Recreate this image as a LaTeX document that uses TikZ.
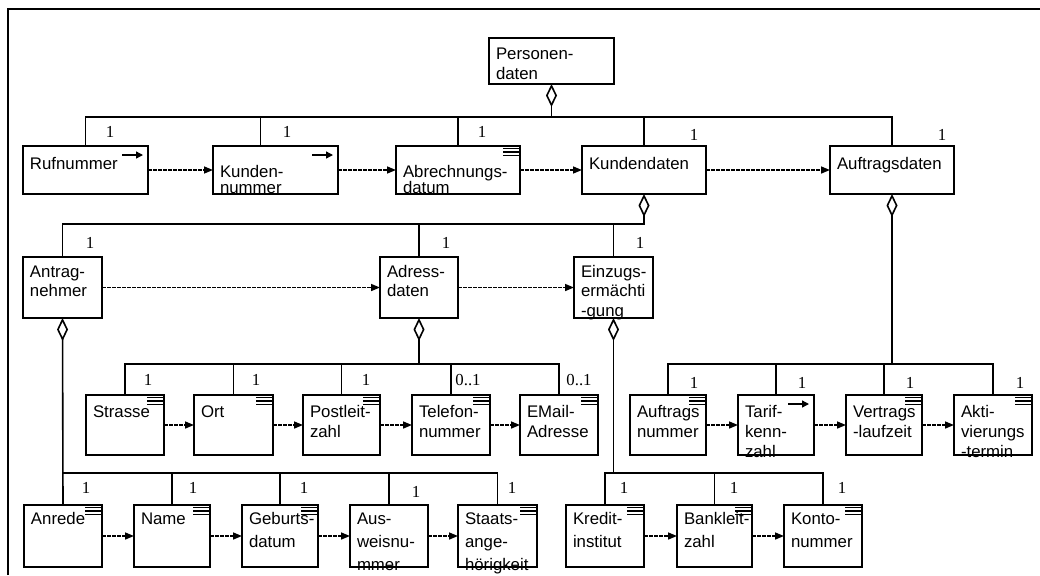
\documentclass[tikz,border=0pt]{standalone}
\usepackage{fontspec}
\setmainfont{Liberation Sans}
\newfontfamily\multfont{Liberation Serif}
\usetikzlibrary{arrows.meta}
\hyphenpenalty=10000
\exhyphenpenalty=10000

\begin{document}
\begin{tikzpicture}[x=0.5pt, y=-0.5pt, line width=0.8pt, >={Triangle[length=4.5pt, width=3.5pt]},
    box/.style={draw, rectangle, anchor=north west, align=left, inner xsep=3.5pt, inner ysep=0pt, outer sep=0pt},
    sz/.style n args={3}{text width=(#1-14)*0.5pt, text height=#3*0.5pt, text depth=(#2-#3)*0.5pt},
    ls/.style={font=\fontsize{8.4pt}{#1}\selectfont},
    mult/.style={font=\multfont\fontsize{8.4pt}{10pt}\selectfont, inner sep=0pt},
    flow/.style={->, dash pattern=on 1.8pt off 0.7pt, line width=0.75pt},
    agg/.style={arrows={Diamond[open, length=11.5pt, width=5.5pt]-}},
    attrlist/.style={path picture={
        \draw[line width=0.6pt] ([shift={(-17,2.5)}]path picture bounding box.north east) -- ++(17,0)
            ([shift={(-17,6)}]path picture bounding box.north east) -- ++(17,0)
            ([shift={(-17,9.5)}]path picture bounding box.north east) -- ++(17,0);}},
    keyref/.style={path picture={
        \draw[->, line width=0.7pt, >={Triangle[length=3.5pt, width=3.5pt]}] ([shift={(-26,9)}]path picture bounding box.north east) -- ++(21,0);}}]
    \useasboundingbox (0,0) rectangle (1040,575);
    \draw[line width=1pt] (8,575) -- (8,9) -- (1040,9);

    \node(pers)[box, sz={125}{46}{21}, ls=10pt] at (489,38){Personen-\\daten};

    \node(ruf)[box, sz={125}{48}{23}, ls=8pt, keyref] at (23,146){Rufnummer};
    \node(kundnr)[box, sz={125}{48}{31}, ls=8pt, keyref] at (213,146){Kunden-\\nummer};
    \node(abr)[box, sz={124}{48}{31}, ls=8pt, attrlist] at (396,146){Abrechnungs-\\datum};
    \node(kunden)[box, sz={124}{48}{23}, ls=8pt] at (582,146){Kundendaten};
    \node(auftr)[box, sz={124}{48}{23}, ls=8pt] at (830,146){Auftragsdaten};

    \node(antrag)[box, sz={79}{61}{20}, ls=9.75pt] at (23,257){Antrag-\\nehmer};
    \node(adress)[box, sz={78}{61}{20}, ls=9.75pt] at (380,257){Adress-\\daten};
    \node(einzug)[box, sz={79}{61}{20}, ls=9.75pt] at (574,257){Einzugs-\\ermächti\\-gung};

    \node(strasse)[box, sz={78}{60}{22}, ls=10pt, attrlist] at (86,395){Strasse};
    \node(ort)[box, sz={79}{60}{22}, ls=10pt, attrlist] at (194,395){Ort};
    \node(plz)[box, sz={77}{60}{22}, ls=10pt, attrlist] at (303,395){Postleit-\\zahl};
    \node(tel)[box, sz={78}{60}{22}, ls=10pt, attrlist] at (412,395){Telefon-\\nummer};
    \node(email)[box, sz={78}{60}{22}, ls=10pt, attrlist] at (520,395){EMail-\\Adresse};
    \node(auftrnr)[box, sz={76}{60}{22}, ls=10pt, attrlist] at (630,395){Auftrags\\nummer};
    \node(tarif)[box, sz={76}{60}{22}, ls=10pt, keyref] at (738,395){Tarif-\\kenn-\\zahl};
    \node(vertrag)[box, sz={76}{60}{22}, ls=10pt, attrlist] at (846,395){Vertrags\\-laufzeit};
    \node(akti)[box, sz={78}{60}{22}, ls=10pt, attrlist] at (954,395){Akti-\\vierungs\\-termin};

    \node(anrede)[box, sz={78}{62}{19}, ls=11.5pt, attrlist] at (24,505){Anrede};
    \node(name)[box, sz={76}{62}{19}, ls=11.5pt, attrlist] at (134,505){Name};
    \node(geburt)[box, sz={76}{62}{19}, ls=11.5pt, attrlist] at (242,505){Geburts-\\datum};
    \node(ausweis)[box, sz={78}{62}{19}, ls=11.5pt] at (350,505){Aus-\\weisnu-\\mmer};
    \node(staats)[box, sz={79}{62}{19}, ls=11.5pt, attrlist] at (458,505){Staats-\\ange-\\hörigkeit};
    \node(kredit)[box, sz={78}{62}{19}, ls=11.5pt, attrlist] at (566,505){Kredit-\\institut};
    \node(bank)[box, sz={75}{62}{19}, ls=11.5pt, attrlist] at (677,505){Bankleit-\\zahl};
    \node(konto)[box, sz={78}{62}{19}, ls=11.5pt, attrlist] at (784,505){Konto-\\nummer};

    \coordinate(bar1) at (0,117);
    \coordinate(bar2) at (0,224);
    \coordinate(bar3) at (0,364);
    \coordinate(bar4) at (0,473);

    \draw[agg] (pers.south) -- (pers.south |- bar1);
    \draw (ruf.north) |- (auftr.north |- bar1) -- (auftr.north);
    \draw ([xshift=-7.5pt]kundnr.north) -- ([xshift=-7.5pt]kundnr.north |- bar1);
    \draw (abr.north) -- (abr.north |- bar1);
    \draw (kunden.north) -- (kunden.north |- bar1);

    \draw[agg] (kunden.south) -- (kunden.south |- bar2) -| (antrag.north);
    \draw (adress.north) -- (adress.north |- bar2);
    \draw (einzug.north) -- (einzug.north |- bar2);

    \draw[agg] (auftr.south) -- (auftr.south |- bar3);
    \draw (auftrnr.north) |- (akti.north |- bar3) -- (akti.north);
    \draw (tarif.north) -- (tarif.north |- bar3);
    \draw (vertrag.north) -- (vertrag.north |- bar3);

    \draw[agg] (adress.south) -- (adress.south |- bar3);
    \draw (strasse.north) |- (email.north |- bar3) -- (email.north);
    \draw (ort.north) -- (ort.north |- bar3);
    \draw (plz.north) -- (plz.north |- bar3);
    \draw (tel.north) -- (tel.north |- bar3);

    \draw[agg] (antrag.south) -- (anrede.north);
    \draw (anrede.north |- bar4) -| (staats.north);
    \draw (name.north) -- (name.north |- bar4);
    \draw (geburt.north) -- (geburt.north |- bar4);
    \draw (ausweis.north) -- (ausweis.north |- bar4);

    \draw[agg] (einzug.south) -- (einzug.south |- bar4);
    \draw (kredit.north) |- (konto.north |- bar4) -- (konto.north);
    \draw (bank.north) -- (bank.north |- bar4);

    \draw[flow] (ruf.east) -- (kundnr.west);
    \draw[flow] (kundnr.east) -- (abr.west);
    \draw[flow] (abr.east) -- (kunden.west);
    \draw[flow] (kunden.east) -- (auftr.west);
    \draw[flow] (antrag.east) -- (adress.west);
    \draw[flow] (adress.east) -- (einzug.west);
    \draw[flow] (strasse.east) -- (ort.west);
    \draw[flow] (ort.east) -- (plz.west);
    \draw[flow] (plz.east) -- (tel.west);
    \draw[flow] (tel.east) -- (email.west);
    \draw[flow] (auftrnr.east) -- (tarif.west);
    \draw[flow] (tarif.east) -- (vertrag.west);
    \draw[flow] (vertrag.east) -- (akti.west);
    \draw[flow] (anrede.east) -- (name.west);
    \draw[flow] (name.east) -- (geburt.west);
    \draw[flow] (geburt.east) -- (ausweis.west);
    \draw[flow] (ausweis.east) -- (staats.west);
    \draw[flow] (kredit.east) -- (bank.west);
    \draw[flow] (bank.east) -- (konto.west);

    \node(m-ruf)[mult] at (110,132){1};
    \node(m-kundnr)[mult] at (287,132){1};
    \node(m-abr)[mult] at (482,132){1};
    \node(m-kunden)[mult] at (694,135){1};
    \node(m-auftr)[mult] at (942,135){1};
    \node(m-antrag)[mult] at (90,243){1};
    \node(m-adress)[mult] at (446,243){1};
    \node(m-einzug)[mult] at (640,243){1};
    \node(m-strasse)[mult] at (148,380){1};
    \node(m-ort)[mult] at (256,380){1};
    \node(m-plz)[mult] at (366,380){1};
    \node(m-tel)[mult] at (468,380){0..1};
    \node(m-email)[mult] at (579,380){0..1};
    \node(m-auftrnr)[mult] at (694,383){1};
    \node(m-tarif)[mult] at (802,383){1};
    \node(m-vertrag)[mult] at (910,383){1};
    \node(m-akti)[mult] at (1020,383){1};
    \node(m-anrede)[mult] at (86,488){1};
    \node(m-name)[mult] at (193,488){1};
    \node(m-geburt)[mult] at (304,488){1};
    \node(m-ausweis)[mult] at (416,492){1};
    \node(m-staats)[mult] at (512,488){1};
    \node(m-kredit)[mult] at (624,488){1};
    \node(m-bank)[mult] at (734,488){1};
    \node(m-konto)[mult] at (842,488){1};
\end{tikzpicture}
\end{document}
